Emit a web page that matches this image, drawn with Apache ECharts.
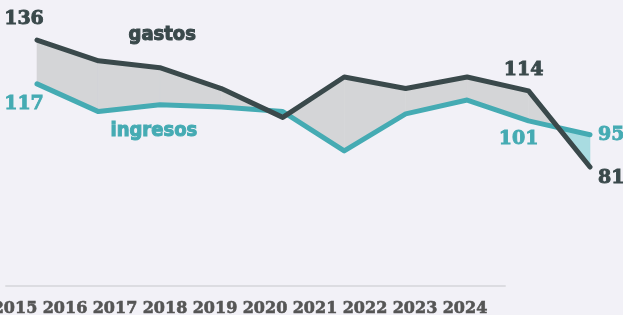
<!DOCTYPE html>
<html>
<head>
<meta charset="utf-8">
<script src="https://cdn.jsdelivr.net/npm/echarts@6/dist/echarts.min.js"></script>
<style>
	html, body { margin: 0; padding: 0; background: #f2f1f7; }
	#chart { width: 623px; height: 315px; }
</style>
</head>
<body>
<div id="chart"></div>
<script>
// datos
var years = [2015, 2016, 2017, 2018, 2019, 2020, 2021, 2022, 2023, 2024];
var gastos = [136, 127, 124, 115, 102.5, 120, 115, 120, 114, 81];
var ingresos = [117, 105, 108, 107, 105, 88, 104, 110, 101, 95];

var colGastos = '#3a494b';
var colIngresos = '#45abb3';
var fillGris = '#d4d5d7';
var fillTeal = '#a9dce1';
var numFont = 'DejaVu Serif';

// dibujar grafico gastos / ingresos
initChart();

function initChart() {
	var myChart = echarts.init(document.getElementById('chart'));

	// etiquetas de valor en puntos concretos
	function lbl(color, pos, offset) {
		return {
			show: true, position: pos, offset: offset, color: color,
			fontFamily: numFont, fontWeight: 'bold', fontSize: 19,
			textBorderColor: color, textBorderWidth: 0.9,
			formatter: function (p) { return p.value; }
		};
	}
	var gastosData = gastos.map(function (v) { return { value: v }; });
	gastosData[0].label = lbl(colGastos, 'top', [-13, -5]);
	gastosData[8].label = lbl(colGastos, 'top', [-5, -5]);
	gastosData[9].label = lbl(colGastos, 'right', [2, 11]);
	var ingresosData = ingresos.map(function (v) { return { value: v }; });
	ingresosData[0].label = lbl(colIngresos, 'bottom', [-13, 5]);
	ingresosData[8].label = lbl(colIngresos, 'bottom', [-10, 3]);
	ingresosData[9].label = lbl(colIngresos, 'right', [2, 0]);

	// relleno entre las dos lineas
	function renderBand(params, api) {
		var i = api.value(0);
		if (i >= years.length - 1) return;
		var g0 = api.coord([i, gastos[i]]), g1 = api.coord([i + 1, gastos[i + 1]]);
		var n0 = api.coord([i, ingresos[i]]), n1 = api.coord([i + 1, ingresos[i + 1]]);
		var d0 = gastos[i] - ingresos[i], d1 = gastos[i + 1] - ingresos[i + 1];
		var children = [];
		function poly(pts, d) {
			var c = d >= 0 ? fillGris : fillTeal;
			children.push({ type: 'polygon', shape: { points: pts },
				style: { fill: c, stroke: c, lineWidth: 0.6 } });
		}
		if (d0 * d1 >= 0) {
			poly([g0, g1, n1, n0], d0 + d1);
		} else {
			var t = d0 / (d0 - d1);
			var x = [g0[0] + (g1[0] - g0[0]) * t, g0[1] + (g1[1] - g0[1]) * t];
			poly([g0, x, n0], d0);
			poly([x, g1, n1], d1);
		}
		return { type: 'group', children: children };
	}

	var option = {
		backgroundColor: '#f2f1f7',
		animation: false,
		grid: [
			{ left: 37, right: 33, top: 7.7, bottom: 99.5, outerBoundsMode: 'none' },
			{ left: 6, right: 118, top: 250, bottom: 29, outerBoundsMode: 'none' }
		],
		xAxis: [ {
			type: 'category', gridIndex: 0, boundaryGap: false,
			data: years, show: false
		}, {
			type: 'value', gridIndex: 1, min: 2014.82, max: 2024.8,
			axisLine: { show: true, lineStyle: { color: '#dcdce1', width: 2 } },
			axisTick: { show: false },
			splitLine: { show: false },
			axisLabel: {
				customValues: years, margin: 15,
				color: '#555555', fontFamily: numFont, fontWeight: 'bold', fontSize: 16,
				textBorderColor: '#555555', textBorderWidth: 0.6,
				formatter: function (v) { return String(v); }
			}
		} ],
		yAxis: [
			{ type: 'value', gridIndex: 0, min: 60, max: 150, show: false },
			{ type: 'value', gridIndex: 1, show: false }
		],
		series: [ {
			type: 'custom', name: 'banda', xAxisIndex: 0, yAxisIndex: 0,
			renderItem: renderBand, z: 1, silent: true,
			data: years.map(function (y, i) { return [i, gastos[i]]; })
		}, {
			name: 'ingresos', type: 'line', data: ingresosData, z: 3,
			symbol: 'circle', symbolSize: 2,
			itemStyle: { color: colIngresos },
			lineStyle: { color: colIngresos, width: 5, cap: 'round', join: 'round' }
		}, {
			name: 'gastos', type: 'line', data: gastosData, z: 4,
			symbol: 'circle', symbolSize: 2,
			itemStyle: { color: colGastos },
			lineStyle: { color: colGastos, width: 5, cap: 'round', join: 'round' }
		} ],
		graphic: [ {
			type: 'text', left: 128, top: 24, z: 10,
			style: { text: 'gastos', fill: colGastos, stroke: colGastos, lineWidth: 1,
				font: 'bold 20px "DejaVu Sans Condensed", "Liberation Sans Narrow", sans-serif' }
		}, {
			type: 'text', left: 110, top: 120, z: 10,
			style: { text: 'ingresos', fill: colIngresos, stroke: colIngresos, lineWidth: 1,
				font: 'bold 20px "DejaVu Sans Condensed", "Liberation Sans Narrow", sans-serif' }
		} ]
	};
	myChart.setOption(option);
}
</script>
</body>
</html>
